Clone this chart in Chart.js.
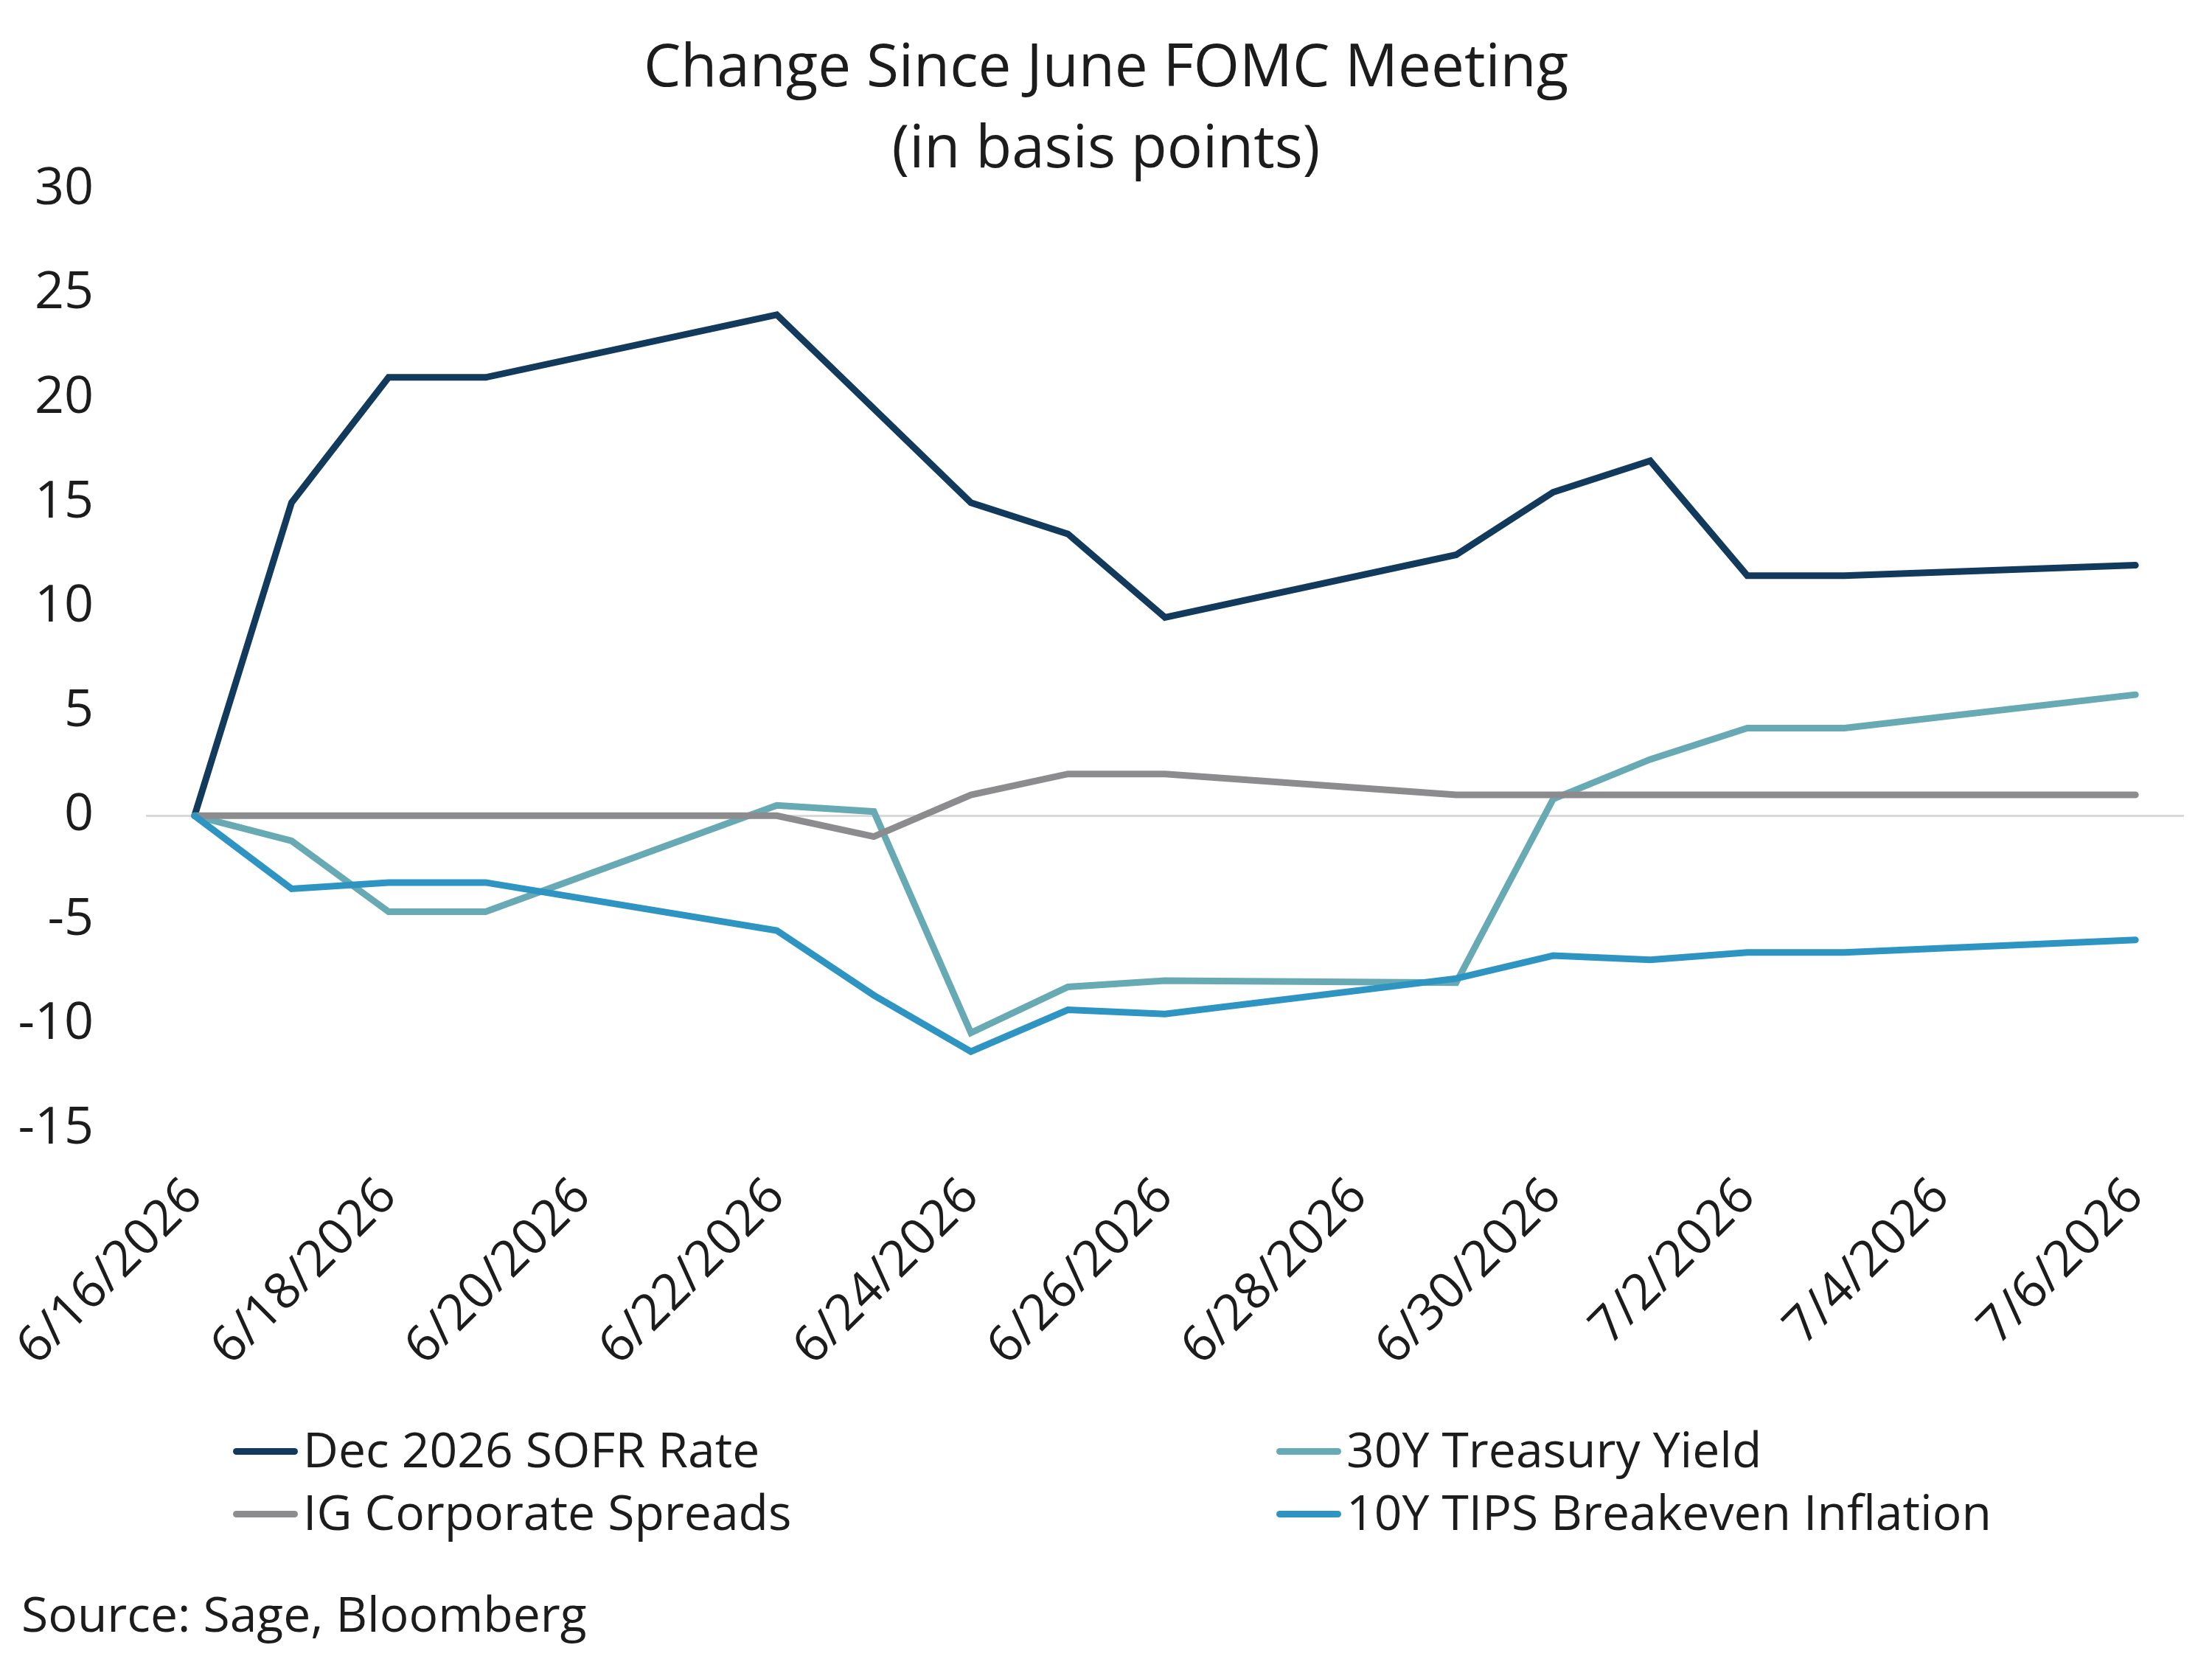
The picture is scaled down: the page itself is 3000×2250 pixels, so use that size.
<!DOCTYPE html>
<html>
<head>
<meta charset="utf-8">
<title>Change Since June FOMC Meeting</title>
<script src="https://cdn.jsdelivr.net/npm/chart.js@4.4.1/dist/chart.umd.min.js"></script>
<style>
  body { margin: 0; background: #fff; font-family: 'Open Sans', sans-serif; color: #1c1c1c; }
  #wrap { position: relative; width: 3000px; height: 2250px; overflow: hidden; }
  canvas { position: absolute; left: 0; top: 0; }
  #title { position: absolute; left: 0; top: 31px; width: 3000px; text-align: center; font-size: 80px; line-height: 110px; }
  .legendItem { position: absolute; font-size: 66px; line-height: 66px; white-space: nowrap; padding-left: 95px; }
  .swatch { position: absolute; left: 0; top: 33px; width: 88px; height: 9px; border-radius: 5px; }
  #source { position: absolute; left: 29px; top: 2154px; font-size: 66px; line-height: 66px; }
</style>
</head>
<body>
<div id="wrap">
  <canvas id="myChart" width="3000" height="2250"></canvas>
  <div id="title">Change Since June FOMC Meeting<br>(in basis points)</div>
  <div id="legend"></div>
  <div id="source">Source: Sage, Bloomberg</div>
</div>
<script>
'use strict';

// Data (basis points, change since 6/16) - weekends are null

const dates = [
  '6/16/2026', '6/17/2026', '6/18/2026', '6/19/2026', '6/20/2026', '6/21/2026', '6/22/2026',
  '6/23/2026', '6/24/2026', '6/25/2026', '6/26/2026', '6/27/2026', '6/28/2026', '6/29/2026',
  '6/30/2026', '7/1/2026', '7/2/2026', '7/3/2026', '7/4/2026', '7/5/2026', '7/6/2026'
];

const sofrRate = [0, 15, 21, 21, null, null, 24, 19.5, 15, 13.5, 9.5, null, null, 12.5, 15.5, 17, 11.5, 11.5, null, null, 12];
const treasury30y = [0, -1.2, -4.6, -4.6, null, null, 0.5, 0.2, -10.4, -8.2, -7.9, null, null, -8.0, 0.8, 2.7, 4.2, 4.2, null, null, 5.8];
const igSpreads = [0, 0, 0, 0, null, null, 0, -1, 1, 2, 2, null, null, 1, 1, 1, 1, 1, null, null, 1];
const tipsBreakeven = [0, -3.5, -3.2, -3.2, null, null, -5.5, -8.6, -11.3, -9.3, -9.5, null, null, -7.8, -6.7, -6.9, -6.55, -6.55, null, null, -5.95];

const seriesNames = ['Dec 2026 SOFR Rate', '30Y Treasury Yield', 'IG Corporate Spreads', '10Y TIPS Breakeven Inflation'];
const seriesColors = ['#123a5c', '#68aab3', '#8c8c8e', '#2e95c2'];
const seriesValues = [sofrRate, treasury30y, igSpreads, tipsBreakeven];

const yMin = -15;
const yMax = 30;
const yStep = 5;
const tickEvery = 2;

let chart = null;

function buildDatasets() {
  let datasets = [];
  for (let i = 0; i < seriesNames.length; i++) {
    datasets.push({
      label: seriesNames[i],
      data: seriesValues[i],
      borderColor: seriesColors[i],
      backgroundColor: seriesColors[i],
      borderWidth: 9,
      borderCapStyle: 'round',
      borderJoinStyle: 'miter',
      pointRadius: 0,
      tension: 0,
      spanGaps: true,
      // excel draws later series on top
      order: seriesNames.length - i
    });
  }
  return datasets;
}

function renderLegend() {
  const legend = document.getElementById('legend');
  // two columns, filled row by row
  const cols = [316, 1731];
  const rows = [1931, 2016];
  for (let i = 0; i < seriesNames.length; i++) {
    let item = document.createElement('div');
    item.className = 'legendItem';
    item.style.left = cols[i % 2] + 'px';
    item.style.top = rows[Math.floor(i / 2)] + 'px';
    let swatch = document.createElement('span');
    swatch.className = 'swatch';
    swatch.style.background = seriesColors[i];
    item.appendChild(swatch);
    item.appendChild(document.createTextNode(seriesNames[i]));
    legend.appendChild(item);
  }
}

function renderChart() {
  const ctx = document.getElementById('myChart');

  let config = {
    type: 'line',
    data: {
      labels: dates,
      datasets: buildDatasets()
    },
    options: {
      responsive: false,
      devicePixelRatio: 1,
      animation: false,
      layout: {
        padding: { left: 0, right: 38, top: 257, bottom: 359 }
      },
      plugins: {
        legend: { display: false },
        title: { display: false },
        tooltip: { enabled: false }
      },
      scales: {
        x: {
          type: 'category',
          offset: true,
          border: { display: false },
          grid: { display: false, drawTicks: false },
          ticks: {
            autoSkip: false,
            maxRotation: 45,
            minRotation: 45,
            padding: 52,
            color: '#1c1c1c',
            font: { family: 'Open Sans', size: 68 },
            callback: function (value, index) {
              return index % tickEvery === 0 ? dates[index] : '';
            }
          },
          afterFit: function (scale) {
            // tall enough that the rotated labels are not clipped
            scale.height = 360;
            // rotated labels may hang past the plot edge, don't let them shrink it
            scale.paddingLeft = 0;
            scale.paddingRight = 0;
          }
        },
        y: {
          min: yMin,
          max: yMax,
          border: { display: false },
          grid: {
            drawTicks: false,
            lineWidth: 3,
            color: function (c) {
              return c.tick && c.tick.value === 0 ? '#d9d9d9' : 'rgba(0,0,0,0)';
            }
          },
          ticks: {
            stepSize: yStep,
            padding: 71,
            color: '#1c1c1c',
            font: { family: 'Open Sans', size: 70 }
          },
          afterFit: function (scale) {
            scale.width = 198;
          }
        }
      }
    }
  };
  chart = new Chart(ctx, config);
}

renderLegend();
renderChart();
</script>
</body>
</html>
